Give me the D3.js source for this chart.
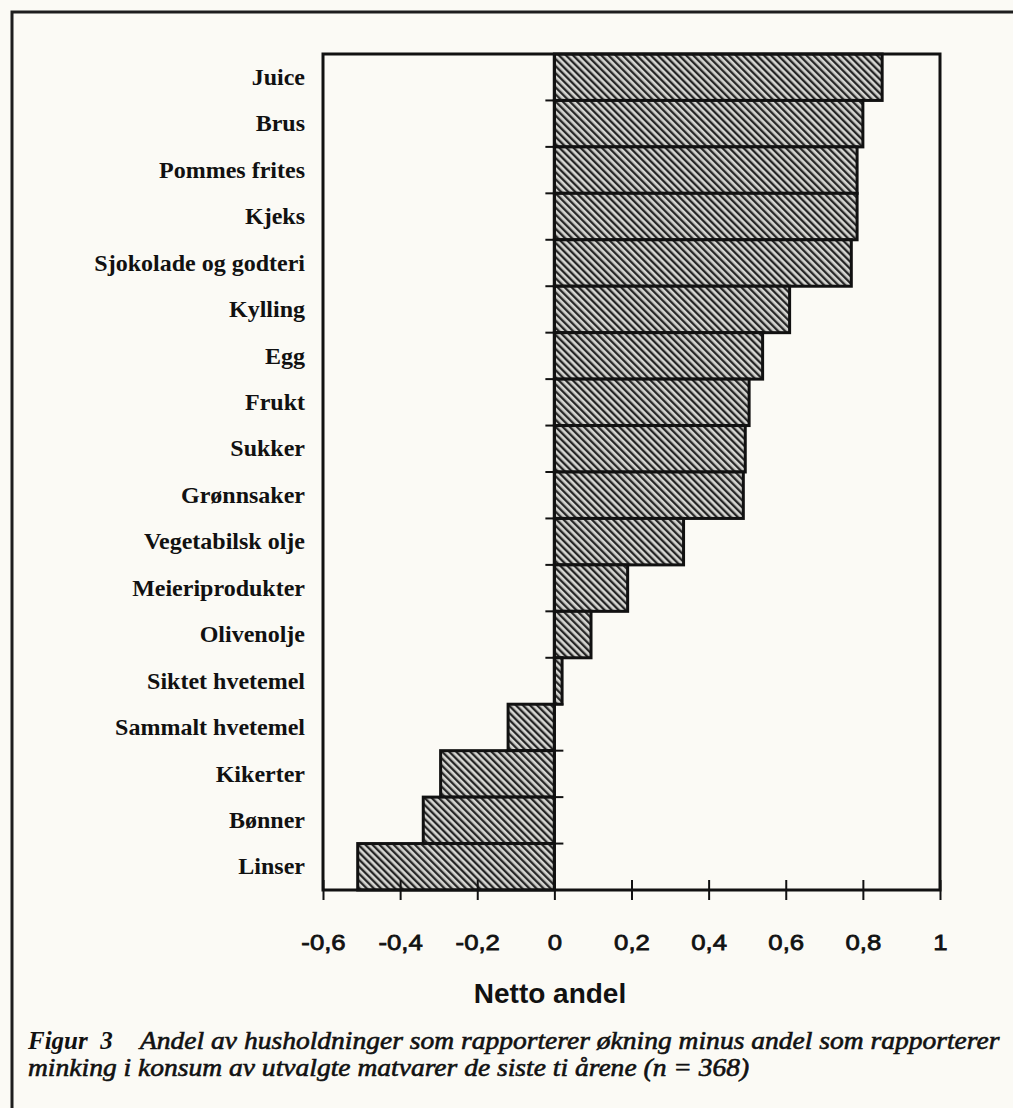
<!DOCTYPE html>
<html>
<head>
<meta charset="utf-8">
<script src="https://cdn.jsdelivr.net/npm/d3@7"></script>
<style>
  body { margin: 0; background: #fbfaf5; }
  svg { display: block; }
</style>
</head>
<body>
<div id="chart"></div>
<script>
var categories = ["Juice", "Brus", "Pommes frites", "Kjeks", "Sjokolade og godteri", "Kylling", "Egg", "Frukt",
  "Sukker", "Grønnsaker", "Vegetabilsk olje", "Meieriprodukter", "Olivenolje", "Siktet hvetemel",
  "Sammalt hvetemel", "Kikerter", "Bønner", "Linser"];
var values = [0.85, 0.80, 0.785, 0.785, 0.77, 0.61, 0.54, 0.505, 0.495, 0.49, 0.335, 0.19, 0.095, 0.02,
  -0.12, -0.295, -0.34, -0.51];
var xTicks = [-0.6, -0.4, -0.2, 0, 0.2, 0.4, 0.6, 0.8, 1];
var xTitle = "Netto andel";
var captionLead = "Figur  3";
var captionLines = ["Andel av husholdninger som rapporterer økning minus andel som rapporterer",
  "minking i konsum av utvalgte matvarer de siste ti årene (n = 368)"];

var width = 1013, height = 1108;
var plot = { left: 323, right: 940, top: 54, bottom: 890 };

var svg = d3.select("#chart").append("svg")
  .attr("width", width)
  .attr("height", height);

svg.append("rect").attr("width", width).attr("height", height).attr("fill", "#fbfaf5");

// outer figure frame (only top and left visible)
svg.append("path")
  .attr("d", "M12," + height + "V12H" + width)
  .attr("fill", "none")
  .attr("stroke", "#1e1e1e")
  .attr("stroke-width", 3);

var defs = svg.append("defs");
var hatch = defs.append("pattern")
  .attr("id", "hatch")
  .attr("patternUnits", "userSpaceOnUse")
  .attr("width", 5)
  .attr("height", 5)
  .attr("patternTransform", "rotate(-45)");
hatch.append("rect").attr("width", 5).attr("height", 5).attr("fill", "#d6d6d2");
hatch.append("rect").attr("width", 2.3).attr("height", 5).attr("fill", "#262626");

var x = d3.scaleLinear()
  .domain([-0.6, 1])
  .range([plot.left, plot.right]);

var y = d3.scaleBand()
  .domain(categories)
  .range([plot.top, plot.bottom])
  .padding(0);

var data = categories.map(function(c, i) { return { name: c, value: values[i] }; });

// bars
svg.append("g").selectAll("rect")
  .data(data)
  .enter()
  .append("rect")
    .attr("x", function(d) { return x(Math.min(0, d.value)); })
    .attr("y", function(d) { return y(d.name); })
    .attr("width", function(d) { return Math.abs(x(d.value) - x(0)); })
    .attr("height", y.bandwidth())
    .attr("fill", "url(#hatch)")
    .attr("stroke", "#111")
    .attr("stroke-width", 3);

// zero line with category ticks at band boundaries
svg.append("line")
  .attr("x1", x(0)).attr("x2", x(0))
  .attr("y1", plot.top).attr("y2", plot.bottom)
  .attr("stroke", "#111")
  .attr("stroke-width", 3);

var bounds = categories.map(function(c) { return y(c); }).concat([plot.bottom]);
svg.append("g").selectAll("line")
  .data(bounds.slice(1, -1))
  .enter()
  .append("line")
    .attr("x1", x(0) - 9).attr("x2", x(0) + 9)
    .attr("y1", function(d) { return d; })
    .attr("y2", function(d) { return d; })
    .attr("stroke", "#111")
    .attr("stroke-width", 2);

// plot box
svg.append("rect")
  .attr("x", plot.left).attr("y", plot.top)
  .attr("width", plot.right - plot.left)
  .attr("height", plot.bottom - plot.top)
  .attr("fill", "none")
  .attr("stroke", "#111")
  .attr("stroke-width", 3);

// x axis
var nb = d3.formatLocale({ decimal: ",", thousands: " ", grouping: [3], currency: ["", ""], minus: "-" });
var xAxis = d3.axisBottom(x)
  .tickValues(xTicks)
  .tickFormat(nb.format(".1~f"))
  .tickSize(10);

var xg = svg.append("g")
  .attr("transform", "translate(0," + plot.bottom + ")")
  .call(xAxis);
xg.select(".domain").remove();
xg.selectAll(".tick line")
  .attr("y1", -10)
  .attr("y2", 10)
  .attr("stroke", "#111")
  .attr("stroke-width", 2);
xg.selectAll(".tick text")
  .attr("y", 60)
  .attr("dy", 0)
  .attr("transform", "scale(1.12,1)")
  .style("font-family", "'Liberation Sans', Arial, sans-serif")
  .style("font-size", "23px")
  .attr("fill", "#111")
  .attr("stroke", "#111")
  .attr("stroke-width", 0.8);

svg.append("text")
  .attr("x", 550)
  .attr("y", 1003)
  .attr("text-anchor", "middle")
  .style("font-family", "'Liberation Sans', Arial, sans-serif")
  .style("font-size", "28px")
  .style("font-weight", "bold")
  .attr("fill", "#111")
  .text(xTitle);

// category labels
var yAxis = d3.axisLeft(y).tickSize(0).tickPadding(18);
var yg = svg.append("g")
  .attr("transform", "translate(" + plot.left + ",0)")
  .call(yAxis);
yg.select(".domain").remove();
yg.selectAll(".tick text")
  .style("font-family", "'Liberation Serif', 'Times New Roman', serif")
  .style("font-size", "24px")
  .style("font-weight", "bold")
  .attr("fill", "#111");

// caption
var cap = svg.append("g")
  .style("font-family", "'Liberation Serif', 'Times New Roman', serif")
  .style("font-style", "italic")
  .style("font-size", "25px")
  .attr("fill", "#111");

cap.append("text")
  .attr("x", 28)
  .attr("y", 1049)
  .style("font-weight", "bold")
  .attr("xml:space", "preserve")
  .text(captionLead);

var capLine1 = cap.append("text")
  .attr("y", 1049)
  .attr("stroke", "#111")
  .attr("stroke-width", 0.6)
  .text(captionLines[0]);
var k = 860 / capLine1.node().getComputedTextLength();
capLine1.attr("transform", "translate(140,0) scale(" + k + ",1)");

cap.append("text")
  .attr("y", 1076)
  .attr("stroke", "#111")
  .attr("stroke-width", 0.6)
  .attr("transform", "translate(28,0) scale(" + k + ",1)")
  .text(captionLines[1]);
</script>
</body>
</html>
